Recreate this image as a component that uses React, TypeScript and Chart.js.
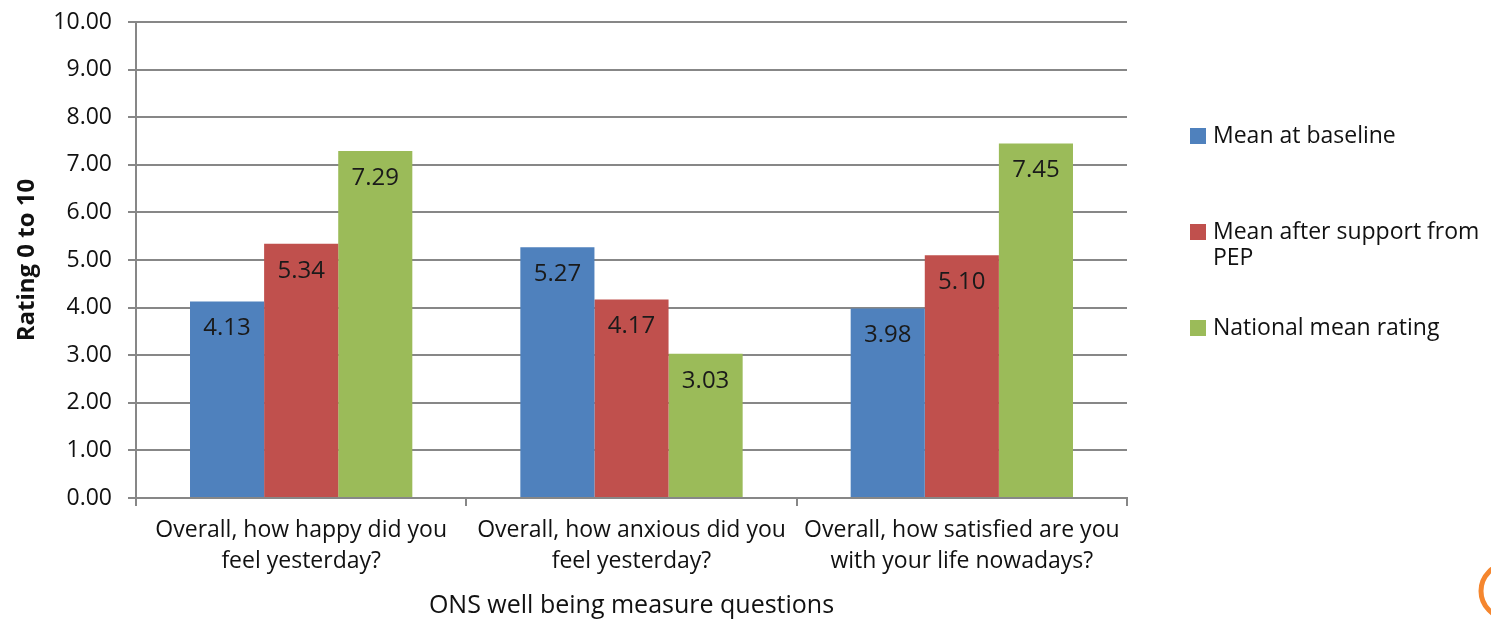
import React, { useEffect, useRef } from "react";
import { Chart, registerables } from "chart.js";

Chart.register(...registerables);

const categories: string[][] = [
  ["Overall, how happy did you", "feel yesterday?"],
  ["Overall, how anxious did you", "feel yesterday?"],
  ["Overall, how satisfied are you", "with your life nowadays?"],
];
const seriesNames = ["Mean at baseline", "Mean after support from PEP", "National mean rating"];
const baseline = [4.13, 5.27, 3.98];
const afterPEP = [5.34, 4.17, 5.1];
const national = [7.29, 3.03, 7.45];
const seriesColors = ["#4F81BD", "#C0504D", "#9BBB59"];
const yMin = 0;
const yMax = 10;
const yStep = 1;
const yTitle = "Rating 0 to 10";
const xTitle = "ONS well being measure questions";

const FONT = "'Open Sans', 'DejaVu Sans', sans-serif";
const GRID = "#878787";

function wrapText(ctx: CanvasRenderingContext2D, text: string, maxW: number): string[] {
  const words = text.split(" ");
  const lines: string[] = [];
  let cur = "";
  for (const w of words) {
    const test = cur ? cur + " " + w : w;
    if (ctx.measureText(test).width > maxW && cur) {
      lines.push(cur);
      cur = w;
    } else cur = test;
  }
  if (cur) lines.push(cur);
  return lines;
}

const overlayPlugin = {
  id: "overlay",
  afterDatasetsDraw(chart: any) {
    const ctx: CanvasRenderingContext2D = chart.ctx;
    const area = chart.chartArea;
    ctx.save();
    // data labels
    ctx.font = `24px ${FONT}`;
    ctx.fillStyle = "#1a1a1a";
    ctx.textAlign = "center";
    ctx.textBaseline = "middle";
    chart.data.datasets.forEach((ds: any, i: number) => {
      const meta = chart.getDatasetMeta(i);
      meta.data.forEach((bar: any, j: number) => {
        const v = ds.data[j] as number;
        ctx.fillText(v.toFixed(2), bar.x, bar.y + 27);
      });
    });
    // y title
    ctx.save();
    ctx.font = `bold 24px ${FONT}`;
    ctx.fillStyle = "#111";
    ctx.translate(27, (area.top + area.bottom) / 2);
    ctx.rotate(-Math.PI / 2);
    ctx.fillText(yTitle, 0, 0);
    ctx.restore();
    // x title
    ctx.font = `25px ${FONT}`;
    ctx.fillStyle = "#111";
    ctx.fillText(xTitle, (area.left + area.right) / 2, 606);
    // legend
    const lx = 1190;
    let ly = 136;
    ctx.textAlign = "left";
    ctx.font = `23px ${FONT}`;
    chart.data.datasets.forEach((ds: any) => {
      ctx.fillStyle = ds.backgroundColor;
      ctx.fillRect(lx, ly - 8, 16, 16);
      ctx.fillStyle = "#111";
      const lines = wrapText(ctx, ds.label, 285);
      lines.forEach((ln, k) => ctx.fillText(ln, lx + 23, ly + k * 26));
      ly += 96;
    });
    // orange logo fragment
    ctx.beginPath();
    ctx.strokeStyle = "#F5862E";
    ctx.lineWidth = 5;
    ctx.arc(1508, 591, 27, 0, Math.PI * 2);
    ctx.stroke();
    ctx.restore();
  },
};

export default function App() {
  const ref = useRef<HTMLCanvasElement>(null);
  useEffect(() => {
    if (!ref.current) return;
    const chart = new Chart(ref.current, {
      type: "bar",
      data: {
        labels: categories,
        datasets: [baseline, afterPEP, national].map((d, i) => ({
          label: seriesNames[i],
          data: d,
          backgroundColor: seriesColors[i],
          borderWidth: 0,
          categoryPercentage: 0.673,
          barPercentage: 1,
        })),
      },
      options: {
        animation: false,
        responsive: true,
        maintainAspectRatio: false,
        layout: { padding: { left: 0, right: 364, top: 22, bottom: 0 } },
        plugins: { legend: { display: false }, tooltip: { enabled: false } },
        scales: {
          x: {
            offset: true,
            grid: {
              offset: true,
              drawOnChartArea: false,
              drawTicks: true,
              tickLength: 8,
              color: GRID,
              lineWidth: 2,
            },
            border: { display: true, color: GRID, width: 2 },
            ticks: {
              color: "#111",
              font: { family: FONT, size: 23, lineHeight: 1.35 },
              padding: 9,
              maxRotation: 0,
              autoSkip: false,
            },
            afterFit: (s: any) => {
              s.height = 122;
              s.paddingLeft = 0;
              s.paddingRight = 0;
            },
          },
          y: {
            min: yMin,
            max: yMax,
            grid: { color: GRID, lineWidth: 2, tickLength: 8, drawTicks: true },
            border: { display: true, color: GRID, width: 2 },
            ticks: {
              stepSize: yStep,
              color: "#111",
              font: { family: FONT, size: 23 },
              padding: 16,
              callback: (v: any) => Number(v).toFixed(2),
            },
            afterFit: (s: any) => {
              s.width = 136;
              s.paddingTop = 0;
              s.paddingBottom = 0;
            },
          },
        },
      },
      plugins: [overlayPlugin],
    });
    return () => chart.destroy();
  }, []);
  return (
    <div style={{ position: "absolute", left: 0, top: 0, width: 1491, height: 620, background: "#fff" }}>
      <canvas ref={ref} style={{ display: "block" }} />
    </div>
  );
}
